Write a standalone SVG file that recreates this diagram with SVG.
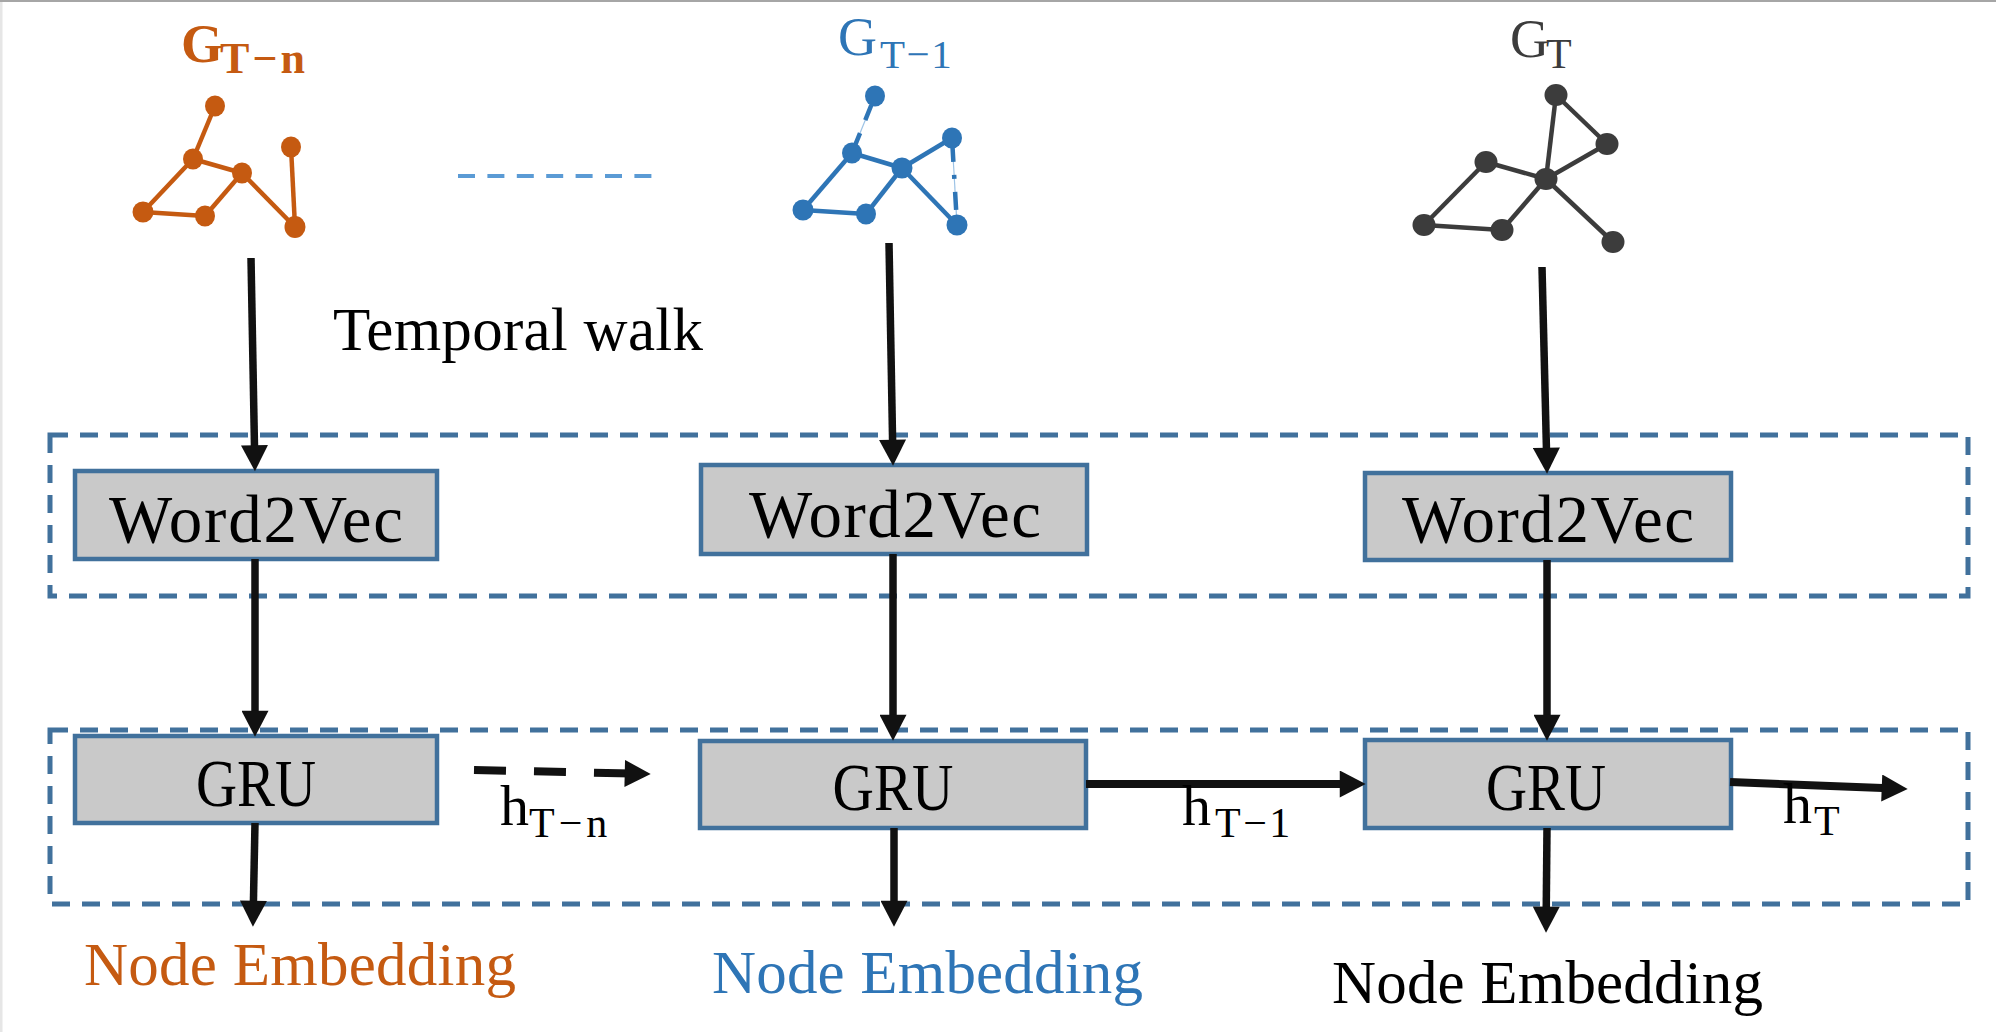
<svg xmlns="http://www.w3.org/2000/svg" width="1996" height="1032" viewBox="0 0 1996 1032">
<style>
  .t { font-family: "Liberation Serif", "Times New Roman", serif; }
  .box { fill: #C9C9C9; stroke: #41719C; stroke-width: 4.5; }
  .region { fill: none; stroke: #41719C; stroke-width: 5; stroke-dasharray: 18 12; }
  .arrow { fill: none; stroke: #111111; stroke-width: 7.5; marker-end: url(#ah); }
  .harrow { fill: none; stroke: #111111; stroke-width: 8; marker-end: url(#ah); }
  .eo { stroke: #C55A11; stroke-width: 4.5; fill: none; }
  .eb { stroke: #2E75B6; stroke-width: 4.5; fill: none; }
  .ed { stroke: #3C3C3C; stroke-width: 4.5; fill: none; }
  .no { fill: #C55A11; }
  .nb { fill: #2E75B6; }
  .nd { fill: #3C3C3C; }
</style>
<defs>
  <marker id="ah" markerUnits="userSpaceOnUse" markerWidth="27" markerHeight="27" viewBox="0 0 25 26" refX="7" refY="13" orient="auto">
    <path d="M0,0 L25,13 L0,26 z" fill="#111111"/>
  </marker>
</defs>
<rect x="0" y="0" width="1996" height="1032" fill="#FFFFFF"/>
<rect x="0" y="0" width="2.5" height="1032" fill="#E6E6E6"/>
<line x1="0" y1="1" x2="1996" y2="1" stroke="#A6A6A6" stroke-width="2"/>

<g id="regions">
  <rect class="region" x="50" y="435" width="1918" height="161"/>
  <rect class="region" x="50" y="730" width="1918" height="174"/>
</g>

<g id="graph-Tn">
  <text class="t" x="181" y="62" font-weight="bold" fill="#C55A11"><tspan font-size="54">G</tspan><tspan x="220" y="73" font-size="44" letter-spacing="3">T−n</tspan></text>
  <g class="eo">
    <line x1="215" y1="106" x2="193" y2="159"/>
    <line x1="193" y1="159" x2="242" y2="173"/>
    <line x1="193" y1="159" x2="143" y2="212"/>
    <line x1="143" y1="212" x2="205" y2="216"/>
    <line x1="205" y1="216" x2="242" y2="173"/>
    <line x1="242" y1="173" x2="295" y2="227"/>
    <line x1="291" y1="147" x2="295" y2="227"/>
  </g>
  <g class="no">
    <ellipse cx="215" cy="106" rx="10" ry="10.5"/>
    <ellipse cx="193" cy="159" rx="10" ry="10.5"/>
    <ellipse cx="242" cy="173" rx="10" ry="10.5"/>
    <ellipse cx="291" cy="147" rx="10" ry="10.5"/>
    <ellipse cx="143" cy="212" rx="10.5" ry="10.5"/>
    <ellipse cx="205" cy="216" rx="10" ry="10.5"/>
    <ellipse cx="295" cy="227" rx="10.5" ry="11"/>
  </g>
</g>

<line id="ellipsis" x1="458" y1="176" x2="654" y2="176" stroke="#5B9BD5" stroke-width="4" stroke-dasharray="17 12.4"/>

<g id="graph-T1">
  <text class="t" x="838" y="55" fill="#2E75B6"><tspan font-size="54">G</tspan><tspan x="880" y="68" font-size="41" letter-spacing="1.5">T−1</tspan></text>
  <g class="eb">
    <line x1="875" y1="96" x2="852" y2="153" stroke="#9DC3E6" stroke-width="1.2"/>
    <line x1="875" y1="96" x2="852" y2="153" stroke-dasharray="0 10 16 14 13 30"/>
    <line x1="852" y1="153" x2="902" y2="168"/>
    <line x1="852" y1="153" x2="803" y2="210"/>
    <line x1="803" y1="210" x2="866" y2="214"/>
    <line x1="866" y1="214" x2="902" y2="168"/>
    <line x1="902" y1="168" x2="952" y2="138"/>
    <line x1="902" y1="168" x2="957" y2="225"/>
    <line x1="952" y1="138" x2="957" y2="225" stroke="#9DC3E6" stroke-width="1.2"/>
    <line x1="952" y1="138" x2="957" y2="225" stroke-dasharray="0 9 15 13 4 13 18 30"/>
  </g>
  <g class="nb">
    <ellipse cx="875" cy="96" rx="10" ry="10.5"/>
    <ellipse cx="852" cy="153" rx="10" ry="10.5"/>
    <ellipse cx="902" cy="168" rx="10.5" ry="10.5"/>
    <ellipse cx="952" cy="138" rx="10" ry="10.5"/>
    <ellipse cx="803" cy="210" rx="10.5" ry="10.5"/>
    <ellipse cx="866" cy="214" rx="10" ry="10.5"/>
    <ellipse cx="957" cy="225" rx="10.5" ry="10.5"/>
  </g>
</g>

<g id="graph-T">
  <text class="t" x="1510" y="57" fill="#3C3C3C"><tspan font-size="54">G</tspan><tspan x="1546" y="68" font-size="42">T</tspan></text>
  <g class="ed">
    <line x1="1556" y1="95" x2="1546" y2="179"/>
    <line x1="1556" y1="95" x2="1607" y2="144"/>
    <line x1="1607" y1="144" x2="1546" y2="179"/>
    <line x1="1486" y1="162" x2="1546" y2="179"/>
    <line x1="1486" y1="162" x2="1424" y2="225"/>
    <line x1="1424" y1="225" x2="1502" y2="230"/>
    <line x1="1502" y1="230" x2="1546" y2="179"/>
    <line x1="1546" y1="179" x2="1613" y2="242"/>
  </g>
  <g class="nd">
    <ellipse cx="1556" cy="95" rx="11.5" ry="11"/>
    <ellipse cx="1607" cy="144" rx="11.5" ry="11"/>
    <ellipse cx="1486" cy="162" rx="11.5" ry="11"/>
    <ellipse cx="1546" cy="179" rx="11.5" ry="11"/>
    <ellipse cx="1424" cy="225" rx="11.5" ry="11"/>
    <ellipse cx="1502" cy="230" rx="11.5" ry="11"/>
    <ellipse cx="1613" cy="242" rx="11.5" ry="11"/>
  </g>
</g>

<text id="temporal-walk" class="t" x="333" y="350" font-size="61" fill="#000000" textLength="370">Temporal walk</text>

<g id="w2v-1">
  <rect class="box" x="75" y="471" width="362" height="88"/>
  <text class="t" x="256" y="542" font-size="67" text-anchor="middle" fill="#000000" textLength="294">Word2Vec</text>
</g>
<g id="w2v-2">
  <rect class="box" x="701" y="465" width="386" height="89"/>
  <text class="t" x="895" y="537" font-size="67" text-anchor="middle" fill="#000000" textLength="292">Word2Vec</text>
</g>
<g id="w2v-3">
  <rect class="box" x="1365" y="473" width="366" height="87"/>
  <text class="t" x="1548" y="542" font-size="67" text-anchor="middle" fill="#000000" textLength="292">Word2Vec</text>
</g>

<g id="gru-1">
  <rect class="box" x="75" y="736" width="362" height="87"/>
  <text class="t" x="256" y="806" font-size="67" text-anchor="middle" fill="#000000" textLength="120" lengthAdjust="spacingAndGlyphs">GRU</text>
</g>
<g id="gru-2">
  <rect class="box" x="700" y="741" width="386" height="87"/>
  <text class="t" x="893" y="810" font-size="67" text-anchor="middle" fill="#000000" textLength="121" lengthAdjust="spacingAndGlyphs">GRU</text>
</g>
<g id="gru-3">
  <rect class="box" x="1365" y="740" width="366" height="88"/>
  <text class="t" x="1546" y="810" font-size="67" text-anchor="middle" fill="#000000" textLength="120" lengthAdjust="spacingAndGlyphs">GRU</text>
</g>

<g id="connectors">
  <path class="arrow" d="M251,258 L254.6,452.5"/>
  <path class="arrow" d="M255,559 L255,718"/>
  <path class="arrow" d="M255,823 L253.3,908"/>
  <path class="arrow" d="M889,243 L892.7,447"/>
  <path class="arrow" d="M893,554 L893,722"/>
  <path class="arrow" d="M894,828 L894,908"/>
  <path class="arrow" d="M1542,267 L1546.6,455"/>
  <path class="arrow" d="M1547,560 L1547,722"/>
  <path class="arrow" d="M1547,828 L1546.2,914"/>
  <path class="harrow" d="M474,770 L632,773.6" stroke-width="7.5" stroke-dasharray="32 28 32 28 40"/>
  <path class="harrow" d="M1086,784 L1347,784"/>
  <path class="harrow" d="M1730,782 L1889,788.3"/>
</g>

<g id="labels">
  <text class="t" x="500" y="825" fill="#000000"><tspan font-size="58">h</tspan><tspan x="529" y="837" font-size="42" letter-spacing="4">T−n</tspan></text>
  <text class="t" x="1182" y="825" fill="#000000"><tspan font-size="58">h</tspan><tspan x="1215" y="837" font-size="42" letter-spacing="2.5">T−1</tspan></text>
  <text class="t" x="1783" y="823" fill="#000000"><tspan font-size="58">h</tspan><tspan x="1814" y="835" font-size="42">T</tspan></text>
  <text class="t" x="84" y="985" font-size="61" fill="#C55A11" textLength="432">Node Embedding</text>
  <text class="t" x="712" y="993" font-size="61" fill="#2E75B6" textLength="431">Node Embedding</text>
  <text class="t" x="1332" y="1003" font-size="61" fill="#000000" textLength="431">Node Embedding</text>
</g>
</svg>
